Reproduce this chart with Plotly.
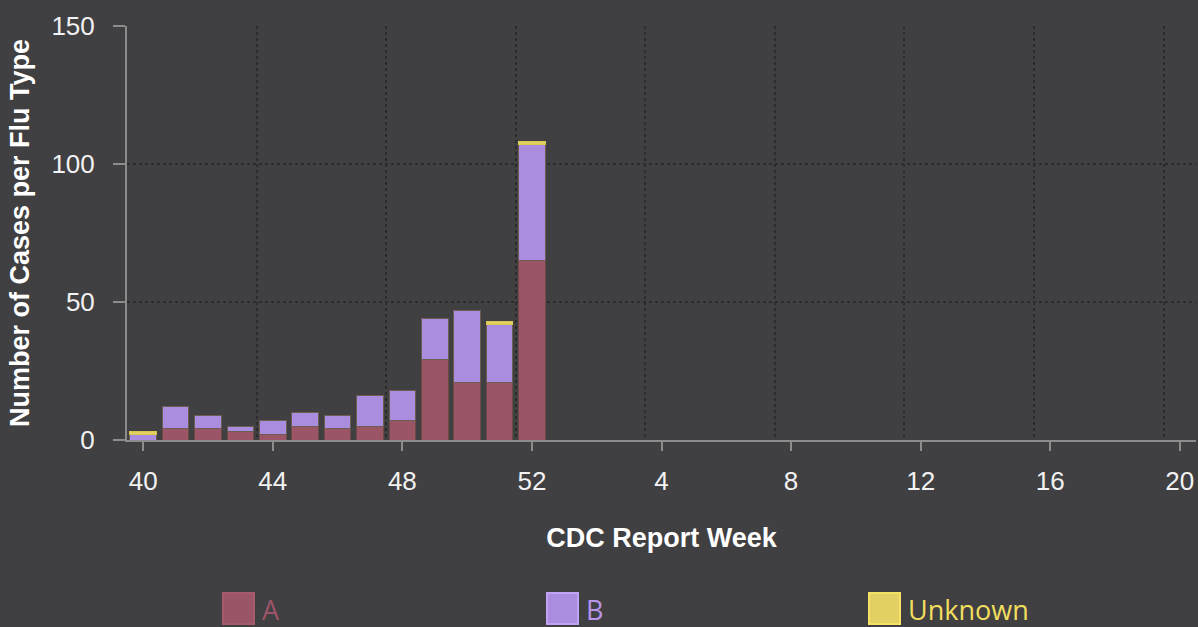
import plotly.graph_objects as go

# ---- data ----
weeks = [str(w) for w in list(range(40, 53)) + list(range(1, 21))]
flu_a = [0, 4, 4, 3, 2, 5, 4, 5, 7, 29, 21, 21, 65]
flu_b = [2, 8, 5, 2, 5, 5, 5, 11, 11, 15, 26, 21, 42]
flu_unknown = [1, 0, 0, 0, 0, 0, 0, 0, 0, 0, 0, 1, 1]
series_names = ["A", "B", "Unknown"]
fill_colors = ["#9a5566", "#ab8ddf", "#e2d062"]
edge_colors = ["#6e4a44", "#6a5e52", "#d8c850"]
legend_border = ["#a65a6c", "#c2a2f2", "#f6e266"]
legend_text = ["#9e5468", "#b794ec", "#f2de5e"]

n = len(weeks)
xs = list(range(n))

def pad(vals):
    return [v if v else None for v in vals] + [None] * (n - len(vals))

fig = go.Figure()
for name, vals, fc, ec in zip(series_names, [flu_a, flu_b, flu_unknown], fill_colors, edge_colors):
    fig.add_trace(go.Bar(
        x=xs, y=pad(vals), name=name,
        marker=dict(color=fc, line=dict(color=ec, width=1)),
        showlegend=False, hoverinfo="skip",
    ))

W, H = 1198, 627
ml, mr, mt, mb = 127, 2, 26, 187
pw, ph = W - ml - mr, H - mt - mb

def px_x(p):
    return (p - ml) / pw

def px_y(p):
    return (H - mb - p) / ph

bg = "#404042"
axis_col = "#8c8c8c"
grid_col = "#2c2c2c"
tick_font = dict(family="Liberation Sans, Arial, sans-serif", size=26, color="#f2f2f2")
title_font = dict(family="Liberation Sans, Arial, sans-serif", size=27, color="#ffffff")

tick_idx = list(range(0, n, 4))
fig.update_layout(
    width=W, height=H,
    margin=dict(l=ml, r=mr, t=mt, b=mb, autoexpand=False),
    paper_bgcolor=bg, plot_bgcolor=bg,
    barmode="stack", bargap=0.18,
    xaxis=dict(
        range=[-0.5, n - 0.5],
        tickmode="array", tickvals=tick_idx, ticktext=[weeks[i] for i in tick_idx],
        ticks="outside", ticklen=9, tickwidth=2, tickcolor=axis_col,
        showline=True, linecolor=axis_col, linewidth=2,
        showgrid=False, zeroline=False,
        minor=dict(tickmode="array", tickvals=[i + 3.5 for i in tick_idx[:-1]],
                   showgrid=True, gridcolor=grid_col, griddash="dot", gridwidth=1.5, ticklen=0),
        tickfont=tick_font, ticklabelstandoff=8,
        title=dict(text="<b>CDC Report Week</b>", font=title_font, standoff=33),
    ),
    yaxis=dict(
        range=[0, 150], tickvals=[0, 50, 100, 150],
        ticks="outside", ticklen=12, tickwidth=2, tickcolor=axis_col,
        showline=True, linecolor=axis_col, linewidth=2,
        showgrid=True, gridcolor=grid_col, griddash="dot", gridwidth=1.5,
        zeroline=False,
        tickfont=tick_font, ticklabelstandoff=13,
        title=dict(text="<b>Number of Cases per Flu Type</b>", font=title_font, standoff=14),
    ),
)

# custom legend (large square swatches)
sw_left = [223, 547, 869]
sw_top, sw_size = 593, 31
for i, name in enumerate(series_names):
    x0 = sw_left[i]
    fig.add_shape(type="rect", xref="paper", yref="paper",
                  x0=px_x(x0), x1=px_x(x0 + sw_size), y0=px_y(sw_top + sw_size), y1=px_y(sw_top),
                  fillcolor=fill_colors[i], line=dict(color=legend_border[i], width=2))
    fig.add_annotation(xref="paper", yref="paper", x=px_x(x0 + sw_size + 6), y=px_y(sw_top + sw_size / 2 + 1),
                       text=name, showarrow=False, xanchor="left", yanchor="middle",
                       font=dict(family="Open Sans, sans-serif", size=27, color=legend_text[i]))

fig.write_html(
    "out.html",
    config={"displayModeBar": False},
    post_script="document.body.style.margin='0';document.body.style.overflow='hidden';",
)
